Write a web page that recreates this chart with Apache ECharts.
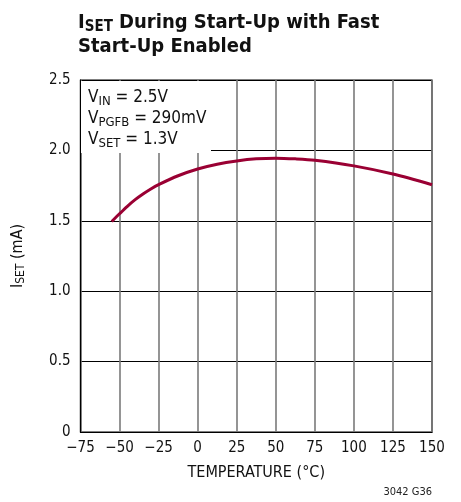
<!DOCTYPE html>
<html>
<head>
<meta charset="utf-8">
<script src="https://cdn.jsdelivr.net/npm/echarts@6/dist/echarts.min.js"></script>
<style>html,body{margin:0;padding:0;background:#fff}#c{width:461px;height:502px}</style>
</head>
<body>
<div id="c"></div>
<script>
// Data
const temperature = [-55, -50, -45, -40, -35, -30, -25, -12.5, 0, 12.5, 25, 37.5, 50, 62.5, 75, 100, 125, 150];
const isetMA = [1.495, 1.55, 1.603, 1.65, 1.69, 1.726, 1.757, 1.82, 1.868, 1.902, 1.925, 1.94, 1.945, 1.94, 1.93, 1.89, 1.832, 1.756];
const xTicks = [-75, -50, -25, 0, 25, 50, 75, 100, 125, 150];
const yTicks = [0, 0.5, 1.0, 1.5, 2.0, 2.5];

const FN = "'Liberation Sans Narrow', 'DejaVu Sans Condensed', sans-serif";
const chart = echarts.init(document.getElementById('c'), null, {renderer: 'canvas'});
const seriesData = temperature.map((t, i) => [t, isetMA[i]]);

chart.setOption({
  animation: false,
  backgroundColor: '#fff',
  title: {
    left: 73, top: 6,
    text: '{b|I}{s|SET}{b| During Start-Up with Fast}\n{b|Start-Up Enabled}',
    textStyle: {
      rich: {
        b: {fontFamily: FN, fontWeight: 'bold', fontSize: 20, color: '#111', lineHeight: 24},
        s: {fontFamily: FN, fontWeight: 'bold', fontSize: 15, color: '#111', lineHeight: 24, padding: [9, 0, 0, 0]}
      }
    }
  },
  grid: {left: 80, right: 29, top: 80, bottom: 70, show: true, borderColor: '#000', borderWidth: 1.2, backgroundColor: 'transparent', z: 0},
  xAxis: {
    type: 'value', min: -75, max: 150, interval: 25,
    axisLine: {show: true, onZero: false, lineStyle: {color: '#000', width: 1.2}},
    axisTick: {show: false},
    splitLine: {show: true, lineStyle: {color: '#7a7a7a', width: 1.6}},
    axisLabel: {fontFamily: FN, fontSize: 15, color: '#111', margin: 9,
      formatter: v => xTicks.includes(v) ? (v < 0 ? '\u2212' + Math.abs(v) : String(v)) : ''},
    name: 'TEMPERATURE (°C)', nameLocation: 'middle', nameGap: 33,
    nameTextStyle: {fontFamily: FN, fontSize: 16, color: '#111'}
  },
  yAxis: {
    type: 'value', min: 0, max: 2.5, interval: 0.5,
    axisLine: {show: true, onZero: false, lineStyle: {color: '#000', width: 1.2}},
    axisTick: {show: false},
    splitLine: {show: true, lineStyle: {color: '#000', width: 1}},
    axisLabel: {fontFamily: FN, fontSize: 15, color: '#111', margin: 10,
      formatter: v => yTicks.includes(v) ? (v === 0 ? '0' : v.toFixed(1)) : ''},
    name: '{n|I}{s|SET}{n| (mA)}', nameLocation: 'middle', nameGap: 52, nameRotate: 90,
    nameTextStyle: {
      rich: {
        n: {fontFamily: FN, fontSize: 16, color: '#111', lineHeight: 22},
        s: {fontFamily: FN, fontSize: 12, color: '#111', lineHeight: 22, padding: [7, 0, 0, 0]}
      }
    }
  },
  graphic: [
    {type: 'rect', z: 1, shape: {x: 81, y: 81, width: 130, height: 72}, style: {fill: '#fff'}},
    {type: 'text', z: 5, left: 88, top: 87,
      style: {
        text: '{n|V}{s|IN}{n| = 2.5V}\n{n|V}{s|PGFB}{n| = 290mV}\n{n|V}{s|SET}{n| = 1.3V}',
        rich: {
          n: {fontFamily: FN, fontSize: 17, fill: '#111', lineHeight: 21},
          s: {fontFamily: FN, fontSize: 13, fill: '#111', lineHeight: 21, padding: [8, 0, 0, 0]}
        }
      }
    },
    {type: 'text', z: 5, right: 29, top: 487,
      style: {text: '3042 G36', fontFamily: FN, fontSize: 11, fill: '#222', textAlign: 'right'}}
  ],
  series: [{
    type: 'line', data: seriesData, smooth: 0.3, showSymbol: false, z: 3,
    lineStyle: {color: '#9a0033', width: 3}
  }]
});
</script>
</body>
</html>
